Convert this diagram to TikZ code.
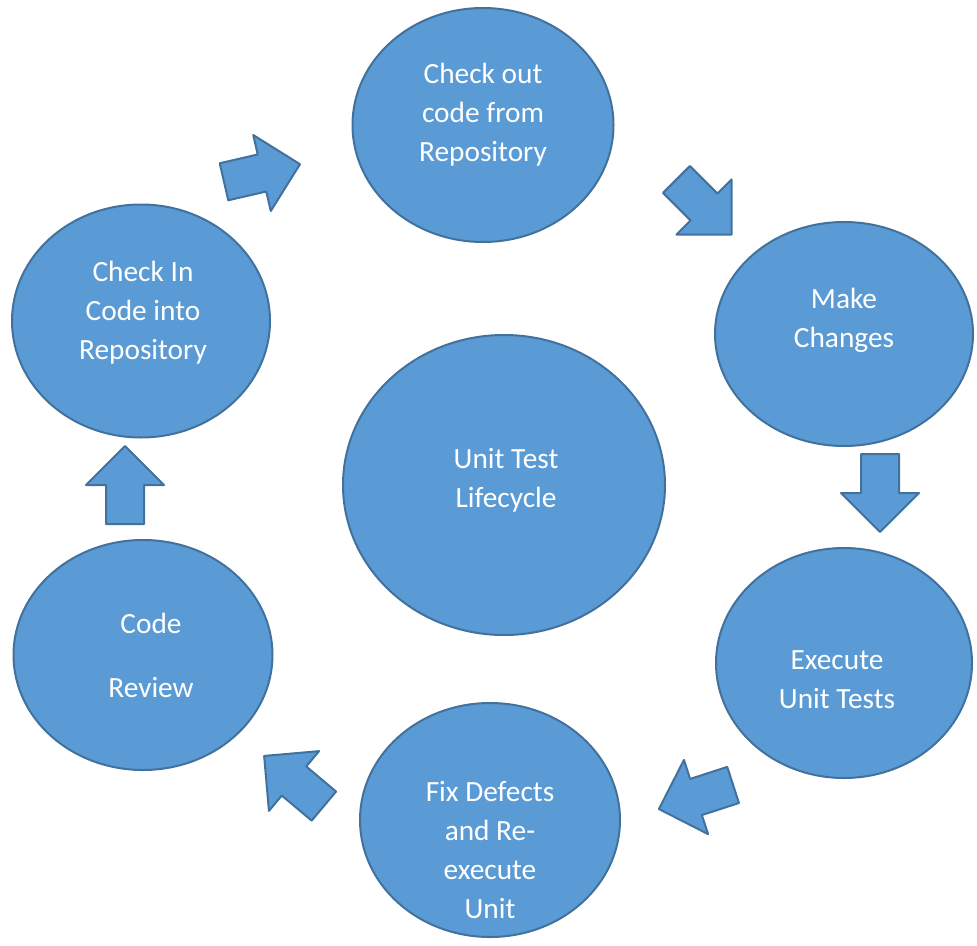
\documentclass[tikz,border=0pt]{standalone}
\usepackage{fontspec}
\setmainfont{Carlito}
\usetikzlibrary{shapes.geometric}
\definecolor{bfill}{HTML}{5B9BD5}
\definecolor{bline}{HTML}{41719C}
\begin{document}
\begin{tikzpicture}[x=0.75pt,y=-0.75pt,
  oval/.style n args={2}{ellipse,fill=bfill,draw=bline,line width=1.5pt,inner sep=0pt,minimum width=#1*0.75pt,minimum height=#2*0.75pt},
  txt/.style={text=white,align=center,font=\fontsize{22}{29.25}\selectfont,inner sep=0pt},
  blk/.style={fill=bfill,draw=bline,line width=1.5pt,line join=round}]
\useasboundingbox (0,0) rectangle (977,945);
% ellipses
\node[oval={261}{234}] (co) at (483,125) {};
\node[oval={258}{224}] (mc) at (844,334) {};
\node[oval={256}{230}] (ex) at (844,663) {};
\node[oval={260}{234}] (fx) at (490,820) {};
\node[oval={259}{230}] (cr) at (143,655) {};
\node[oval={258}{233}] (ci) at (141,321) {};
\node[oval={322}{300}] (ut) at (504,485) {};
% texts
\node[txt] (tco) at (483,115) {Check out\\code from\\Repository};
\node[txt] (tmc) at (844,320) {Make\\Changes};
\node[txt] (tex) at (837,680) {Execute\\Unit Tests};
\node[txt] (tfx) at (490,850) {Fix Defects\\and Re-\\execute\\Unit};
\node[txt] (tcr1) at (151,623) {Code};
\node[txt] (tcr2) at (151,688) {Review};
\node[txt] (tci) at (143,313) {Check In\\Code into\\Repository};
\node[txt] (tut) at (506,480) {Unit Test\\Lifecycle};
% block arrows
\foreach \cx/\cy/\ang in {262/173/13, 704/207/-45, 880/493/-90, 696/797/198, 294/781/140, 125/485/90}{
  \begin{scope}[shift={(\cx,\cy)},rotate=\ang]
    \draw[blk] (-39,-19) -- (0,-19) -- (0,-39) -- (39,0) -- (0,39) -- (0,19) -- (-39,19) -- cycle;
  \end{scope}
}
\end{tikzpicture}
\end{document}
